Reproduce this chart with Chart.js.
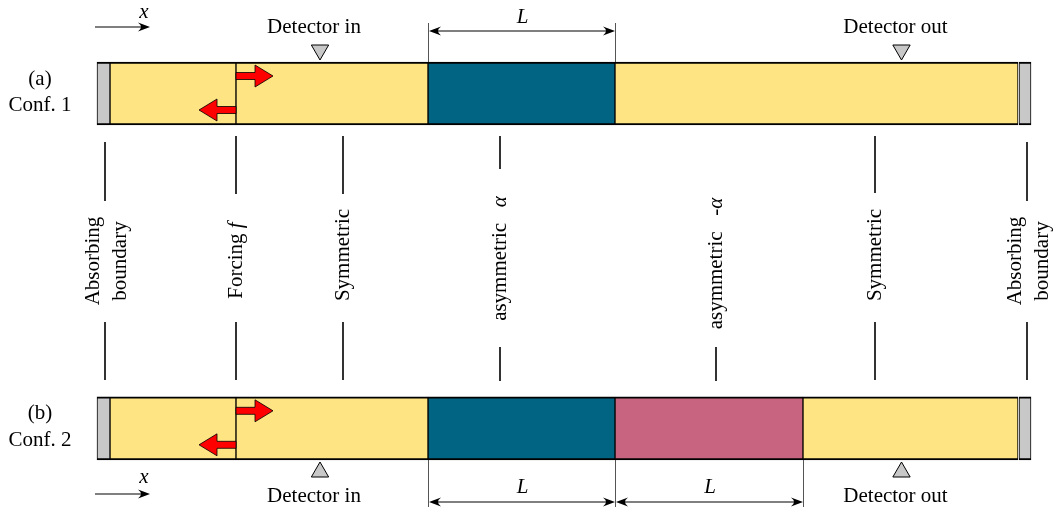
<!DOCTYPE html>
<html>
<head>
<meta charset="utf-8">
<script src="https://cdn.jsdelivr.net/npm/chart.js@4.4.0/dist/chart.umd.min.js"></script>
<style>
  html, body { margin: 0; padding: 0; background: #fff; }
</style>
</head>
<body>
<canvas id="diagram" width="1054" height="508"></canvas>
<script>
// layer segments along x (start, end) for the two configurations
const conf1Symmetric = [[110, 236], [236, 428], [615, 1018]];
const conf1AsymPlus = [[428, 615]];
const conf2Symmetric = [[110, 236], [236, 428], [803, 1018]];
const conf2AsymPlus = [[428, 615]];
const conf2AsymMinus = [[615, 803]];
const boundaryCaps = [[97, 110], [1019, 1031]];

// rows
const rowY = [93.5, 428.3];
const rowTag = ['(a)', '(b)'];
const rowName = ['Conf. 1', 'Conf. 2'];

// interface markers between the two rows
const markerX = [105, 236, 343, 500, 716, 875, 1027];
const markerTop = [[142, 201], [136, 194], [136, 194], [136, 169], null, [136, 193], [142, 201]];
const markerBottom = [[322, 380], [322, 380], [322, 380], [347, 381], [347, 381], [322, 380], [322, 380]];
const markerLabel = ['Absorbing\nboundary', 'Forcing {f}', 'Symmetric', 'asymmetric   {α}',
  'asymmetric   {-α}', 'Symmetric', 'Absorbing\nboundary'];
const markerLabelY = [261, 260.5, 255, 258.5, 263.5, 255, 261];

// detectors
const detectorX = [320, 901.5];
const detectorLabel = ['Detector in', 'Detector out'];

// length marks (L)
const conf1Lengths = [[428, 615]];
const conf2Lengths = [[428, 615], [615, 803]];

// forcing position
const forcingX = 236;

const FONT = '"Liberation Serif", "Times New Roman", serif';
const FS = 21;
const YELLOW = '#FFE484';
const TEAL = '#006482';
const PINK = '#C8647F';
const GRAY = '#C8C8C8';

function barSet(segs, y, color) {
  return {
    type: 'bar',
    indexAxis: 'y',
    grouped: false,
    barThickness: 63,
    data: segs.map(s => ({ y: y, x: s })),
    backgroundColor: color,
    borderColor: '#000',
    borderWidth: { top: 2, bottom: 2, left: 1, right: 1 },
    borderSkipped: false
  };
}

function lineSet(x, span) {
  return {
    type: 'line',
    data: [{ x: x, y: span[0] }, { x: x, y: span[1] }],
    borderColor: '#000',
    borderWidth: 1.6,
    pointRadius: 0,
    fill: false
  };
}

const datasets = [
  barSet(boundaryCaps, rowY[0], GRAY),
  barSet(conf1Symmetric, rowY[0], YELLOW),
  barSet(conf1AsymPlus, rowY[0], TEAL),
  barSet(boundaryCaps, rowY[1], GRAY),
  barSet(conf2Symmetric, rowY[1], YELLOW),
  barSet(conf2AsymPlus, rowY[1], TEAL),
  barSet(conf2AsymMinus, rowY[1], PINK)
];
markerX.forEach((x, i) => {
  if (markerTop[i]) datasets.push(lineSet(x, markerTop[i]));
  if (markerBottom[i]) datasets.push(lineSet(x, markerBottom[i]));
});
// detector triangles
datasets.push({
  type: 'scatter',
  data: detectorX.map(x => ({ x: x, y: 50 })),
  pointStyle: 'triangle', pointRotation: 180, pointRadius: 10,
  backgroundColor: GRAY, borderColor: '#000', borderWidth: 1
});
datasets.push({
  type: 'scatter',
  data: detectorX.map(x => ({ x: x, y: 472 })),
  pointStyle: 'triangle', pointRotation: 0, pointRadius: 10,
  backgroundColor: GRAY, borderColor: '#000', borderWidth: 1
});

// text in {} is italic
function parseRuns(str) {
  const runs = [];
  str.split(/(\{[^}]*\})/).forEach(p => {
    if (!p) return;
    if (p[0] === '{') runs.push({ t: p.slice(1, -1), it: true });
    else runs.push({ t: p, it: false });
  });
  return runs;
}

function drawText(ctx, str, x, y, align, angle) {
  const runs = parseRuns(str);
  ctx.save();
  ctx.translate(x, y);
  ctx.rotate(angle || 0);
  let total = 0;
  runs.forEach(r => {
    ctx.font = (r.it ? 'italic ' : '') + FS + 'px ' + FONT;
    r.w = ctx.measureText(r.t).width;
    total += r.w;
  });
  let cx = align === 'center' ? -total / 2 : (align === 'right' ? -total : 0);
  ctx.textAlign = 'left';
  ctx.fillStyle = '#000';
  runs.forEach(r => {
    ctx.font = (r.it ? 'italic ' : '') + FS + 'px ' + FONT;
    ctx.fillText(r.t, cx, 0);
    cx += r.w;
  });
  ctx.restore();
}

function arrowHead(ctx, tx, ty, dir) {
  ctx.beginPath();
  ctx.moveTo(tx, ty);
  ctx.lineTo(tx - dir * 12, ty - 4.5);
  ctx.quadraticCurveTo(tx - dir * 6, ty, tx - dir * 12, ty + 4.5);
  ctx.closePath();
  ctx.fill();
}

function forcingArrow(ctx, x0, yc, dir) {
  ctx.beginPath();
  ctx.moveTo(x0, yc - 3.5);
  ctx.lineTo(x0 + dir * 19, yc - 3.5);
  ctx.lineTo(x0 + dir * 19, yc - 11);
  ctx.lineTo(x0 + dir * 37, yc);
  ctx.lineTo(x0 + dir * 19, yc + 11);
  ctx.lineTo(x0 + dir * 19, yc + 3.5);
  ctx.lineTo(x0, yc + 3.5);
  ctx.closePath();
  ctx.fillStyle = '#FF0000';
  ctx.fill();
  ctx.lineWidth = 0.8;
  ctx.strokeStyle = '#000';
  ctx.stroke();
}

const annotations = {
  id: 'annotations',
  afterDatasetsDraw(chart) {
    const ctx = chart.ctx;
    const xs = chart.scales.x, ys = chart.scales.y;
    const px = v => xs.getPixelForValue(v);
    const py = v => ys.getPixelForValue(v);
    ctx.save();
    ctx.textBaseline = 'alphabetic';

    // row labels
    rowY.forEach((y, i) => {
      drawText(ctx, rowTag[i], px(40), py(y - 9), 'center');
      drawText(ctx, rowName[i], px(40), py(y + 17.5), 'center');
    });

    // forcing arrows
    rowY.forEach(y => {
      forcingArrow(ctx, px(forcingX), py(y - 17.5), 1);
      forcingArrow(ctx, px(forcingX), py(y + 16.5), -1);
    });

    // x direction arrows
    [[27, 18], [494, 483]].forEach(([ay, ly]) => {
      ctx.strokeStyle = '#000';
      ctx.fillStyle = '#000';
      ctx.lineWidth = 1.2;
      ctx.beginPath();
      ctx.moveTo(px(95), py(ay));
      ctx.lineTo(px(146), py(ay));
      ctx.stroke();
      arrowHead(ctx, px(150), py(ay), 1);
      drawText(ctx, '{x}', px(144), py(ly), 'center');
    });

    // detector labels
    detectorX.forEach((x, i) => {
      drawText(ctx, detectorLabel[i], px(x - 6), py(33), 'center');
      drawText(ctx, detectorLabel[i], px(x - 6), py(502), 'center');
    });

    // length marks
    const dims = [[conf1Lengths, 23, 62, 31, 23], [conf2Lengths, 507, 460, 502, 493]];
    dims.forEach(([list, t0, t1, ay, ly]) => {
      list.forEach(([a, b]) => {
        ctx.strokeStyle = '#555';
        ctx.lineWidth = 1;
        ctx.beginPath();
        ctx.moveTo(px(a) + 0.5, py(t0)); ctx.lineTo(px(a) + 0.5, py(t1));
        ctx.moveTo(px(b) + 0.5, py(t0)); ctx.lineTo(px(b) + 0.5, py(t1));
        ctx.stroke();
        ctx.strokeStyle = '#000';
        ctx.fillStyle = '#000';
        ctx.lineWidth = 1.2;
        ctx.beginPath();
        ctx.moveTo(px(a) + 4, py(ay)); ctx.lineTo(px(b) - 4, py(ay));
        ctx.stroke();
        arrowHead(ctx, px(a) + 1, py(ay), -1);
        arrowHead(ctx, px(b), py(ay), 1);
        drawText(ctx, '{L}', px((a + b) / 2 + 1), py(ly), 'center');
      });
    });

    // rotated interface labels
    ctx.textBaseline = 'middle';
    markerX.forEach((x, i) => {
      const lines = markerLabel[i].split('\n');
      lines.forEach((ln, k) => {
        const off = lines.length > 1 ? (k - (lines.length - 1) / 2) * 27 + 2 : 0;
        drawText(ctx, ln, px(x + off), py(markerLabelY[i]), 'center', -Math.PI / 2);
      });
    });
    ctx.restore();
  }
};

new Chart(document.getElementById('diagram'), {
  type: 'bar',
  data: { datasets: datasets },
  options: {
    responsive: false,
    animation: false,
    devicePixelRatio: 1,
    layout: { padding: 0, autoPadding: false },
    plugins: { legend: { display: false }, tooltip: { enabled: false } },
    scales: {
      x: { type: 'linear', min: 0, max: 1054, offset: false, display: false },
      y: { type: 'linear', min: 0, max: 508, offset: false, reverse: true, display: false }
    }
  },
  plugins: [annotations]
});
</script>
</body>
</html>
